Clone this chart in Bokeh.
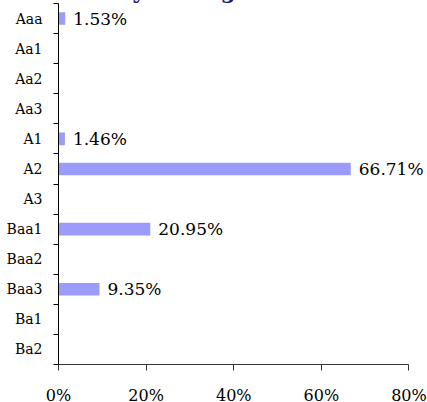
from bokeh.plotting import figure
from bokeh.models import Range1d, FixedTicker, PrintfTickFormatter, Title, ColumnDataSource, Label
from bokeh.embed import file_html
from bokeh.resources import INLINE

categories = ["Aaa", "Aa1", "Aa2", "Aa3", "A1", "A2", "A3", "Baa1", "Baa2", "Baa3", "Ba1", "Ba2"]
weights = [1.53, 0, 0, 0, 1.46, 66.71, 0, 20.95, 0, 9.35, 0, 0]
x_ticks = [0, 20, 40, 60, 80]
title_text = "Portfolio by Rating"

FONT = "DejaVu Serif"

pos = [i + 1 for i in range(len(categories))]
nz = [(p_, w) for p_, w in zip(pos, weights) if w > 0]
src = ColumnDataSource(dict(
    y=[a for a, _ in nz],
    w=[b for _, b in nz],
))

p = figure(width=436, height=434, output_backend="svg", toolbar_location=None,
           x_range=Range1d(0, 84), y_range=Range1d(len(categories) + 0.5, 0.5),
           min_border_left=66, min_border_right=2, min_border_bottom=38, min_border_top=0)
p.styles = {"margin-top": "-27px", "margin-left": "-8px"}
p.outline_line_color = None
p.grid.visible = False
p.background_fill_color = "white"

p.hbar(y="y", left=0, right="w", height=0.42, source=src, fill_color="#9b9bfb", line_color=None)
for yy, ww in nz:
    p.add_layout(Label(x=ww, y=yy, text=f"{ww:.2f}%", x_offset=8, text_baseline="middle",
                       text_font=FONT, text_font_size="17px", text_color="black"))

t = Title(text=title_text, align="left", offset=-57, standoff=2,
          text_font=FONT, text_font_size="22px", text_font_style="bold", text_color="#1c1c82")
p.add_layout(t, "above")

# x axis
xa = p.xaxis[0]
xa.bounds = (x_ticks[0], x_ticks[-1])
xa.ticker = FixedTicker(ticks=x_ticks)
xa.formatter = PrintfTickFormatter(format="%d%%")
xa.major_tick_out = 6
xa.major_tick_in = 0
xa.minor_tick_out = 0
xa.minor_tick_in = 0
xa.major_label_standoff = 15
xa.major_label_text_font = FONT
xa.major_label_text_font_size = "16px"
xa.major_label_text_color = "black"
xa.axis_line_color = "#333333"
xa.major_tick_line_color = "#333333"

# y axis
ya = p.yaxis[0]
ya.ticker = FixedTicker(ticks=pos, minor_ticks=[i + 0.5 for i in range(len(categories) + 1)])
ya.major_label_overrides = {p_: c for p_, c in zip(pos, categories)}
ya.major_tick_out = 0
ya.major_tick_in = 0
ya.minor_tick_out = 5
ya.minor_tick_in = 0
ya.major_label_standoff = 11
ya.major_label_text_font = FONT
ya.major_label_text_font_size = "14px"
ya.major_label_text_color = "black"
ya.axis_line_color = "black"
ya.minor_tick_line_color = "black"

open("out.html", "w").write(file_html(p, INLINE))
